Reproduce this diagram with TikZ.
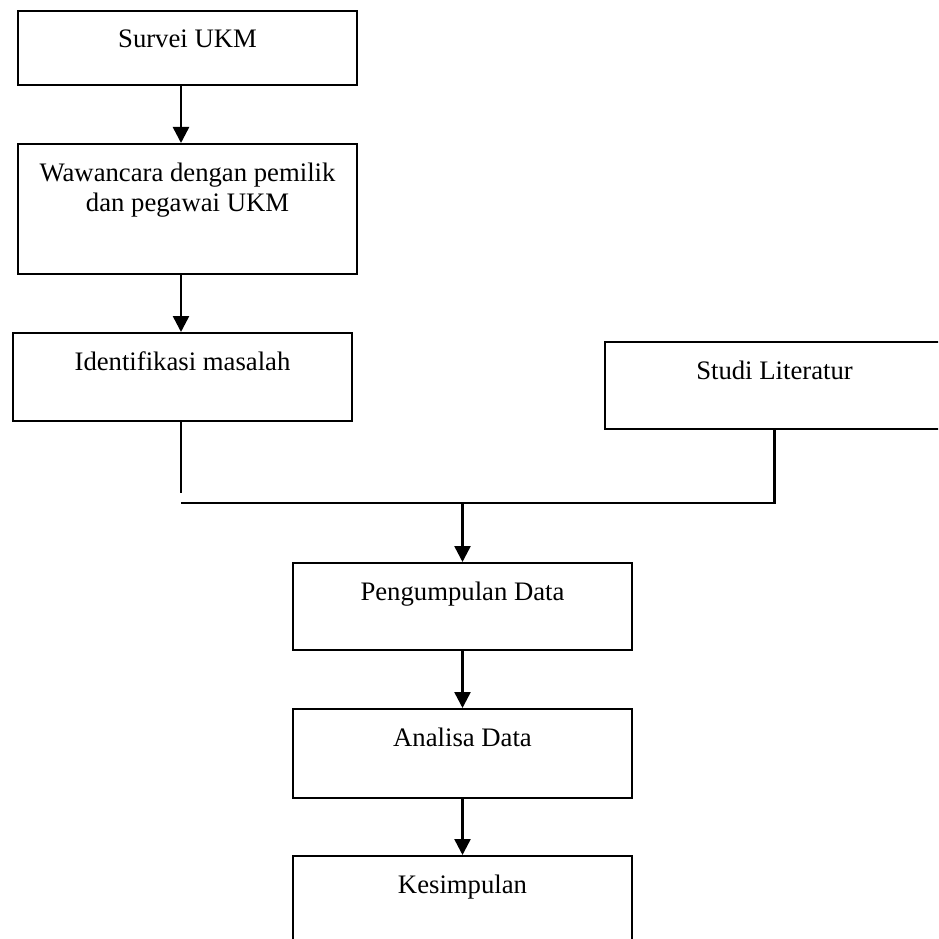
\documentclass[tikz,border=0pt]{standalone}
\usepackage{fontspec}
\setmainfont{Liberation Serif}
\usetikzlibrary{arrows.meta}

\begin{document}
\begin{tikzpicture}[x=1pt, y=-1pt,
    every node/.style={font=\fontsize{26.7}{30}\selectfont},
    kotak/.style={draw, line width=2pt, rectangle, inner sep=0pt, align=center,
      anchor=north, minimum width=339pt, text height=37pt, text depth=#1},
    garis/.style={line width=2.5pt},
    panah/.style={line width=2.5pt, -{Triangle[width=16pt,length=16pt]}}]
    \useasboundingbox (0,0) rectangle (938,939);
    \clip (0,0) rectangle (938,939);

    \node[kotak=37pt] (survei) at (187.5,10) {Survei UKM};
    \node[kotak=63pt, text height=67pt] (wawancara) at (187.5,143) {Wawancara dengan pemilik\\dan pegawai UKM};
    \node[kotak=51pt] (identifikasi) at (182.5,332) {Identifikasi masalah};
    \node[kotak=50pt] (studi) at (774.5,341) {Studi Literatur};
    \node[kotak=50pt] (kumpul) at (462.5,562) {Pengumpulan Data};
    \node[kotak=52pt] (analisa) at (462.5,708) {Analisa Data};
    \node[kotak=52pt] (simpul) at (462.5,855) {Kesimpulan};

    \coordinate (kiri) at (181,503);

    \draw[panah] (survei.south -| kiri) -- (wawancara.north -| kiri);
    \draw[panah] (wawancara.south -| kiri) -- (identifikasi.north -| kiri);

    % gabungan masalah dan literatur
    \draw[garis] (identifikasi.south -| kiri) -- ([yshift=10pt]kiri);
    \draw[garis] (kiri) -- (kiri -| studi.south) -- (studi.south);
    \draw[panah] (kiri -| kumpul.north) -- (kumpul.north);

    \draw[panah] (kumpul) -- (analisa);
    \draw[panah] (analisa) -- (simpul);
\end{tikzpicture}
\end{document}
